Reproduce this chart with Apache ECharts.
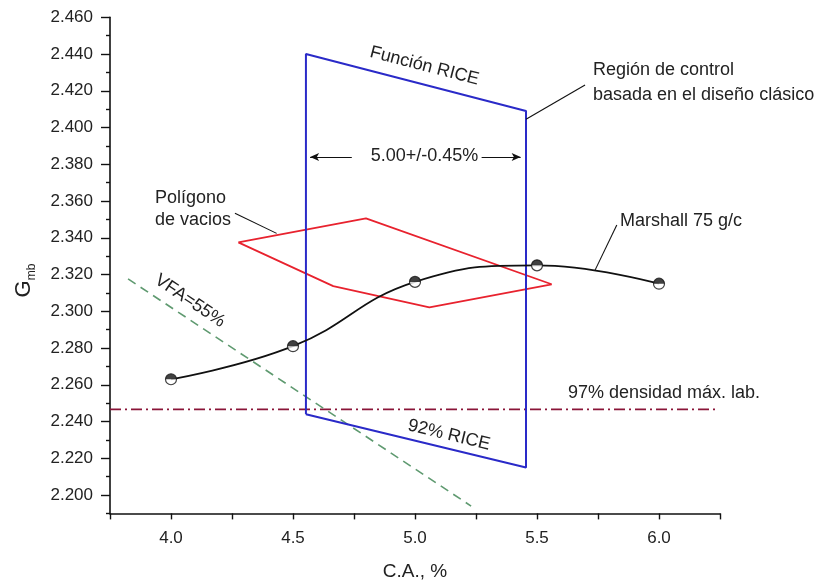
<!DOCTYPE html>
<html><head><meta charset="utf-8">
<script src="https://cdn.jsdelivr.net/npm/echarts@6/dist/echarts.min.js"></script>
<style>html,body{margin:0;padding:0;background:#fff}#c{width:827px;height:587px}</style>
</head><body><div id="c"></div>
<script>
// ---- data ----
const caValues = [4.0, 4.5, 5.0, 5.5, 6.0];
const gmbMarshall = [2.263, 2.281, 2.316, 2.325, 2.315];
const riceX = [4.553, 4.553, 5.455, 5.455, 4.553];
const riceY = [2.244, 2.440, 2.409, 2.215, 2.244];
const voidsX = [4.276, 4.799, 5.560, 5.059, 4.665, 4.276];
const voidsY = [2.3375, 2.3506, 2.3147, 2.3021, 2.3137, 2.3375];
const vfaX = [3.824, 5.23];
const vfaY = [2.3176, 2.194];
const densityX = [3.75, 6.242];
const densityY = [2.2466, 2.2466];
const yTickLabels = [2.20, 2.22, 2.24, 2.26, 2.28, 2.30, 2.32, 2.34, 2.36, 2.38, 2.40, 2.42, 2.44, 2.46];
const yMinorTicks = [2.19, 2.21, 2.23, 2.25, 2.27, 2.29, 2.31, 2.33, 2.35, 2.37, 2.39, 2.41, 2.43, 2.45];
const xTickLabels = [4.0, 4.5, 5.0, 5.5, 6.0];
const rangeArrowY = 2.384;
const rangeArrowsX = [[4.741, 4.570], [5.273, 5.433]];
const leaderLines = [
  [[5.455, 2.4045], [5.697, 2.4231]],
  [[4.262, 2.3533], [4.433, 2.3424]],
  [[5.738, 2.3224], [5.827, 2.3469]]
];

const zip = (xs, ys) => xs.map((x, i) => [x, ys[i]]);
const FONT = '"Liberation Sans", Arial, sans-serif';
const chart = echarts.init(document.getElementById('c'), null, {renderer: 'canvas'});

const option = {
  animation: false,
  backgroundColor: '#fff',
  grid: {left: 110, right: 107, top: 17.3, bottom: 73.6, containLabel: false},
  xAxis: {
    type: 'value', min: 3.75, max: 6.25, interval: 0.25,
    axisLine: {lineStyle: {color: '#111', width: 1.6}},
    axisTick: {inside: false, length: 6, lineStyle: {color: '#111', width: 1.4}},
    axisLabel: {customValues: xTickLabels, formatter: v => v.toFixed(1), fontSize: 17, fontFamily: FONT, color: '#222', margin: 16},
    splitLine: {show: false}
  },
  yAxis: [{
    type: 'value', min: 2.19, max: 2.46,
    axisLine: {show: true, lineStyle: {color: '#111', width: 1.6}},
    axisTick: {show: true, customValues: yTickLabels, length: 9, lineStyle: {color: '#111', width: 1.4}},
    axisLabel: {customValues: yTickLabels, formatter: v => v.toFixed(3), fontSize: 17, fontFamily: FONT, color: '#222', margin: 17},
    splitLine: {show: false}
  }, {
    type: 'value', min: 2.19, max: 2.46, position: 'left',
    axisLine: {show: false},
    axisTick: {show: true, customValues: yMinorTicks, length: 4, lineStyle: {color: '#111', width: 1.4}},
    axisLabel: {show: false},
    splitLine: {show: false}
  }],
  series: [
    {type: 'line', name: 'density', data: zip(densityX, densityY), showSymbol: false,
     lineStyle: {color: '#8a1538', width: 1.6, type: [11, 4, 2, 4]}, z: 2},
    {type: 'line', name: 'vfa', data: zip(vfaX, vfaY), showSymbol: false,
     lineStyle: {color: '#5f9a70', width: 1.6, type: [9, 6]}, z: 2},
    {type: 'line', name: 'voids', data: zip(voidsX, voidsY), showSymbol: false,
     lineStyle: {color: '#e8222e', width: 1.8}, z: 3},
    {type: 'line', name: 'rice', data: zip(riceX, riceY), showSymbol: false,
     lineStyle: {color: '#2a2ac8', width: 2}, z: 4},
    {type: 'line', name: 'marshall', data: zip(caValues, gmbMarshall), showSymbol: false, smooth: 0.45,
     lineStyle: {color: '#111', width: 1.8}, z: 5},
    {type: 'scatter', name: 'marshallPts', data: zip(caValues, gmbMarshall), symbol: 'circle', symbolSize: 11,
     itemStyle: {color: '#fff', borderColor: '#111', borderWidth: 1.2}, z: 6},
    {type: 'scatter', name: 'marshallPtsTop', data: zip(caValues, gmbMarshall),
     symbol: 'path://M0,1 A1,1 0 0 1 2,1 Z', symbolSize: [11, 5.5], symbolOffset: [0, -2.75],
     itemStyle: {color: '#111'}, z: 7},
    {type: 'line', name: 'annot', data: [], silent: true,
     markLine: {silent: true, animation: false, symbol: ['none', 'arrow'], symbolSize: [6, 9],
       label: {show: false}, lineStyle: {color: '#111', width: 1.1, type: 'solid'},
       data: rangeArrowsX.map(p => [{coord: [p[0], rangeArrowY]}, {coord: [p[1], rangeArrowY]}])}},
    {type: 'line', name: 'leaders', data: [], silent: true,
     markLine: {silent: true, animation: false, symbol: ['none', 'none'],
       label: {show: false}, lineStyle: {color: '#111', width: 1.1, type: 'solid'},
       data: leaderLines.map(l => [{coord: l[0]}, {coord: l[1]}])}}
  ]
};
chart.setOption(option);

const deg = d => d * Math.PI / 180;
const txt = (text, x, y, opts = {}) => ({
  type: 'text', x, y, rotation: opts.rot ? deg(opts.rot) : 0, z: 100,
  style: {text, font: (opts.size || 18) + 'px ' + FONT, fill: '#222',
          align: opts.align || 'left', verticalAlign: 'middle'}
});
chart.setOption({
  graphic: [
    txt('Función RICE', 424.5, 66, {align: 'center', rot: -14.5, size: 18}),
    txt('Región de control', 593, 70, {size: 18}),
    txt('basada en el diseño clásico', 593, 95, {size: 18}),
    txt('5.00+/-0.45%', 424.5, 156, {align: 'center', size: 18}),
    txt('Polígono', 155, 198, {size: 18}),
    txt('de vacios', 155, 220, {size: 18}),
    txt('Marshall 75 g/c', 620, 221, {size: 18}),
    txt('VFA=55%', 190, 301, {align: 'center', rot: -34, size: 18}),
    txt('92% RICE', 449, 435, {align: 'center', rot: -13.6, size: 18}),
    txt('97% densidad máx. lab.', 760, 393, {align: 'right', size: 18}),
    txt('C.A., %', 415, 572, {align: 'center', size: 19}),
    txt('G', 24, 289, {align: 'center', rot: 90, size: 22}),
    txt('mb', 32, 272, {align: 'center', rot: 90, size: 12})
  ]
});
</script></body></html>
